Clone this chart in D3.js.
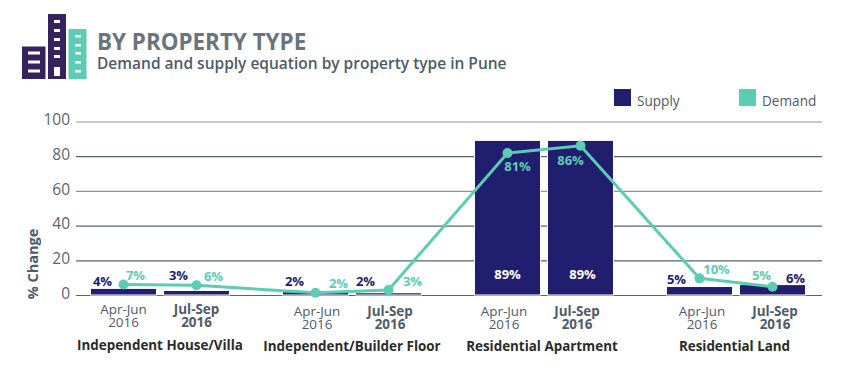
<!DOCTYPE html>
<html>
<head>
<meta charset="utf-8">
<script src="https://cdn.jsdelivr.net/npm/d3@7"></script>
<style>
  html, body { margin: 0; padding: 0; background: #fff; }
  svg { display: block; font-family: "Open Sans", sans-serif; }
</style>
</head>
<body>
<div id="chart"></div>
<script>
const categories = ["Independent House/Villa", "Independent/Builder Floor", "Residential Apartment", "Residential Land"];
const periods = ["Apr-Jun", "Jul-Sep"];
const periodYear = "2016";
const supplyValues = [3.5, 2.3, 1.6, 1, 88.8, 88.8, 4.6, 5.7];
const demandValues = [6.1, 5.6, 1.3, 2.9, 81.8, 86, 9.6, 4.8];
const supplyLabels = ["4%", "3%", "2%", "2%", "89%", "89%", "5%", "6%"];
const demandLabels = ["7%", "6%", "2%", "3%", "81%", "86%", "10%", "5%"];
const yTicks = [0, 20, 40, 60, 80, 100];

const width = 849, height = 373;
const navy = "#211e70", teal = "#5bcdb4", slate = "#4d5b6a";

const svg = d3.select("#chart").append("svg")
    .attr("width", width)
    .attr("height", height);

// header icon
const icon = svg.append("g");
const iconRect = (x, y, w, h, fill) => icon.append("rect")
    .attr("x", x).attr("y", y).attr("width", w).attr("height", h).attr("fill", fill);
iconRect(22, 46.5, 23.5, 32.5, "#35235d");
iconRect(48, 14, 18, 65, "#35235d");
iconRect(68.5, 29, 18, 50, teal);
[51.5, 60.5, 69.5].forEach(y => iconRect(28, y, 12, 3, "#fff"));
[20, 29, 38, 47, 55].forEach(y => iconRect(54, y, 6, 3, "#fff"));
iconRect(54, 67, 6, 9, "#fff");
[35, 44, 52, 61, 70].forEach(y => iconRect(75, y, 6, 2.5, "#fff"));

svg.append("text")
    .attr("x", 97).attr("y", 50)
    .attr("font-size", 22.4).attr("font-weight", 700).attr("fill", "#6a747e")
    .text("BY PROPERTY TYPE");

svg.append("text")
    .attr("x", 97).attr("y", 69)
    .attr("font-size", 15.5).attr("font-weight", 600).attr("fill", slate)
    .text("Demand and supply equation by property type in Pune");

// scales
const yScale = d3.scaleLinear().domain([0, 100]).range([295, 121.5]);

const groupScale = d3.scaleBand()
    .domain(categories)
    .range([91, 805])
    .paddingInner(54 / 192);

const periodScale = d3.scaleBand()
    .domain(periods)
    .range([0, groupScale.bandwidth()])
    .paddingInner(2 - groupScale.bandwidth() / 73);

// one row for each bar, in drawing order
const rows = categories.flatMap((category, i) => periods.map((period, j) => {
    const k = i * periods.length + j;
    return {
        category, period,
        supply: supplyValues[k], demand: demandValues[k],
        supplyLabel: supplyLabels[k], demandLabel: demandLabels[k]
    };
}));

const xLeft = d => groupScale(d.category) + periodScale(d.period);
const xMid = d => xLeft(d) + periodScale.bandwidth() / 2;

// gridlines and y axis
const yAxis = d3.axisLeft(yScale).tickValues(yTicks).tickSize(-746).tickPadding(6);
const yAxisG = svg.append("g")
    .attr("transform", "translate(76,0)")
    .call(yAxis);
yAxisG.select(".domain").remove();
yAxisG.selectAll("line")
    .attr("stroke", d => (d === 100 || d === 60 ? "#8d949e" : "#56646f"))
    .attr("stroke-width", 1.2);
yAxisG.selectAll("text")
    .attr("font-family", "'Open Sans', sans-serif")
    .attr("font-size", 15.5)
    .attr("dy", "0.2em")
    .attr("fill", "#5a6672");

svg.append("text")
    .attr("transform", "translate(38,264) rotate(-90)")
    .attr("text-anchor", "middle")
    .attr("font-size", 14.5).attr("font-weight", 700).attr("fill", slate)
    .text("% Change");

// bars
svg.append("g").selectAll("rect").data(rows)
    .enter().append("rect")
    .attr("x", xLeft)
    .attr("y", d => yScale(d.supply))
    .attr("width", periodScale.bandwidth())
    .attr("height", d => yScale(0) - yScale(d.supply) - 0.5)
    .attr("fill", navy)
    .attr("stroke", "#fff")
    .attr("stroke-width", 2)
    .attr("paint-order", "stroke");

// demand line
const line = d3.line().x(xMid).y(d => yScale(d.demand));
svg.append("path")
    .attr("d", line(rows))
    .attr("fill", "none")
    .attr("stroke", teal)
    .attr("stroke-width", 3);

svg.append("g").selectAll("circle").data(rows)
    .enter().append("circle")
    .attr("cx", xMid)
    .attr("cy", d => yScale(d.demand))
    .attr("r", 5)
    .attr("fill", teal);

// value labels, hand placed around the marks like the original
const supplyNudge = [[-21, -3], [-18, -11], [-21, -6], [-23, -7], [0, 0], [2, 0], [-23, -3], [23, -2]];
const demandNudge = [[12, -4], [17, -4], [23, -5], [24, -4], [10, 18], [-10, 19], [17, -4], [-11, -7]];

svg.append("g").selectAll("text").data(rows)
    .enter().append("text")
    .attr("x", (d, i) => xMid(d) + supplyNudge[i][0])
    .attr("y", (d, i) => (d.supply > 50 ? 279 : yScale(d.supply)) + supplyNudge[i][1])
    .attr("text-anchor", "middle")
    .attr("font-size", 13).attr("font-weight", 700)
    .attr("fill", d => (d.supply > 50 ? "#fff" : navy))
    .text(d => d.supplyLabel);

svg.append("g").selectAll("text").data(rows)
    .enter().append("text")
    .attr("x", (d, i) => xMid(d) + demandNudge[i][0])
    .attr("y", (d, i) => yScale(d.demand) + demandNudge[i][1])
    .attr("text-anchor", "middle")
    .attr("font-size", 13).attr("font-weight", 700)
    .attr("fill", teal)
    .text(d => d.demandLabel);

// period labels under the bars, two lines in one text
const periodText = svg.append("g").selectAll("text").data(rows)
    .enter().append("text")
    .attr("transform", (d, i) => `translate(${xMid(d) + (i < 2 ? 0 : i < 4 ? 1.5 : i < 6 ? -3.5 : 2.5)},${i < 2 ? 314 : 316})`)
    .attr("text-anchor", "middle")
    .attr("font-size", 13.4)
    .attr("fill", slate)
    .attr("font-weight", d => (d.period === "Jul-Sep" ? 700 : 400));
periodText.append("tspan").attr("x", 0).text(d => d.period);
periodText.append("tspan").attr("x", 0).attr("dy", 13).text(periodYear);

// category labels
svg.append("g").selectAll("text").data(categories)
    .enter().append("text")
    .attr("x", (d, i) => groupScale(d) + groupScale.bandwidth() / 2 + [0, 0, -2, -1.5][i])
    .attr("y", (d, i) => (i === 0 ? 350 : 351))
    .attr("text-anchor", "middle")
    .attr("font-size", 13.4).attr("font-weight", 700).attr("fill", "#2b2b2b")
    .text(d => d);

// legend
const legendItems = [["Supply", navy, 614], ["Demand", teal, 739]];
const legend = svg.append("g").selectAll("g").data(legendItems)
    .enter().append("g")
    .attr("transform", d => `translate(${d[2]},89)`);
legend.append("rect")
    .attr("width", 17).attr("height", 17)
    .attr("fill", d => d[1]);
legend.append("text")
    .attr("x", 23).attr("y", 17)
    .attr("font-size", 13.6).attr("fill", slate)
    .text(d => d[0]);
</script>
</body>
</html>
